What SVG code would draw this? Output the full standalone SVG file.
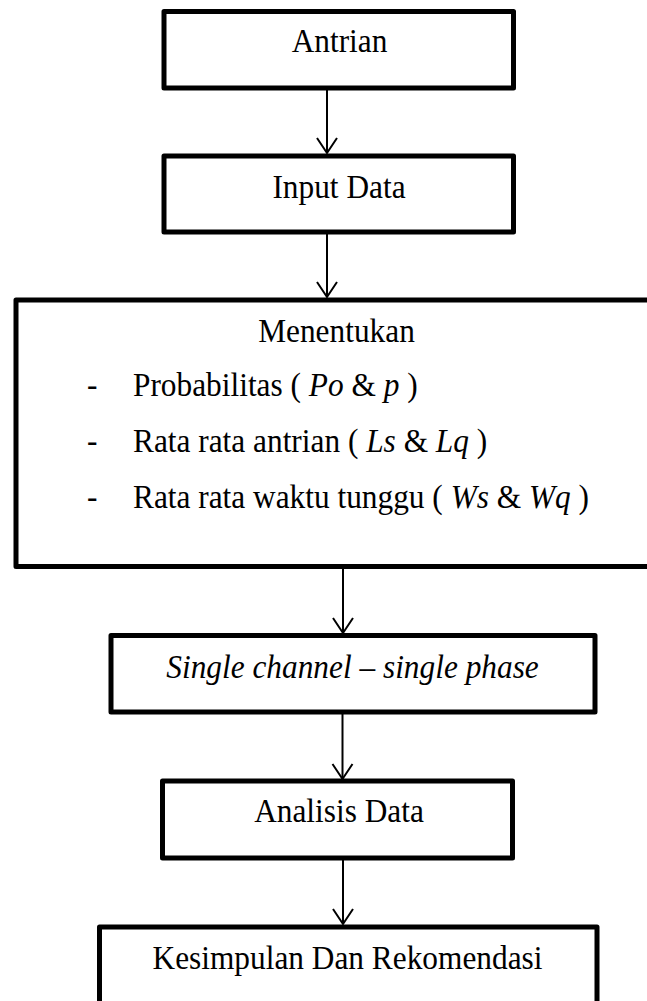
<svg xmlns="http://www.w3.org/2000/svg" width="647" height="1001" viewBox="0 0 647 1001">
  <style>
    .box { fill: #ffffff; stroke: #000000; stroke-width: 5; stroke-linejoin: round; }
    .lbl { font-family: "Liberation Serif", "Times New Roman", serif; font-size: 33px; fill: #000000; }
    .mid { text-anchor: middle; }
    .it { font-style: italic; }
    .wire { fill: none; stroke: #000000; stroke-width: 2; }
  </style>
  <defs>
    <marker id="vhead" markerUnits="userSpaceOnUse" markerWidth="30" markerHeight="30" refX="0" refY="0" viewBox="-20 -15 25 30" orient="auto" overflow="visible">
      <path d="M-15,-10 L0,0 L-15,10" fill="none" stroke="#000000" stroke-width="2"/>
    </marker>
  </defs>

  <rect width="647" height="1001" fill="#ffffff"/>

  <!-- flow connectors -->
  <g id="connectors">
    <line class="wire" x1="327" y1="90" x2="327" y2="153" marker-end="url(#vhead)"/>
    <line class="wire" x1="327" y1="234" x2="327" y2="297" marker-end="url(#vhead)"/>
    <line class="wire" x1="343" y1="568" x2="343" y2="633" marker-end="url(#vhead)"/>
    <line class="wire" x1="342.5" y1="714" x2="342.5" y2="779" marker-end="url(#vhead)"/>
    <line class="wire" x1="343" y1="860" x2="343" y2="924" marker-end="url(#vhead)"/>
  </g>

  <g id="antrian">
    <rect class="box" x="164" y="11.5" width="349.5" height="76.5"/>
    <g transform="translate(339.5,52) scale(0.95,1)"><text class="lbl mid" x="0" y="0">Antrian</text></g>
  </g>

  <g id="input-data">
    <rect class="box" x="164" y="156" width="349.5" height="76"/>
    <g transform="translate(339,198) scale(0.95,1)"><text class="lbl mid" x="0" y="0">Input Data</text></g>
  </g>

  <g id="menentukan">
    <rect class="box" x="16" y="300" width="660" height="266.5"/>
    <g transform="translate(336.5,342) scale(0.95,1)"><text class="lbl mid" x="0" y="0">Menentukan</text></g>
    <g transform="translate(87,396) scale(0.95,1)"><text class="lbl" x="0" y="0">-</text></g>
    <g transform="translate(133,396) scale(0.95,1)"><text class="lbl" x="0" y="0">Probabilitas ( <tspan class="it">Po</tspan> &amp; <tspan class="it">p</tspan> )</text></g>
    <g transform="translate(87,452) scale(0.95,1)"><text class="lbl" x="0" y="0">-</text></g>
    <g transform="translate(133,452) scale(0.95,1)"><text class="lbl" x="0" y="0">Rata rata antrian ( <tspan class="it">Ls</tspan> &amp; <tspan class="it">Lq</tspan> )</text></g>
    <g transform="translate(87,508) scale(0.95,1)"><text class="lbl" x="0" y="0">-</text></g>
    <g transform="translate(133,508) scale(0.95,1)"><text class="lbl" x="0" y="0">Rata rata waktu tunggu ( <tspan class="it">Ws</tspan> &amp; <tspan class="it">Wq</tspan> )</text></g>
  </g>

  <g id="single-channel">
    <rect class="box" x="111" y="635.5" width="484" height="76.5"/>
    <g transform="translate(352.5,678) scale(0.95,1)"><text class="lbl mid it" x="0" y="0">Single channel – single phase</text></g>
  </g>

  <g id="analisis-data">
    <rect class="box" x="162.5" y="781" width="350" height="77"/>
    <g transform="translate(339,822) scale(0.95,1)"><text class="lbl mid" x="0" y="0">Analisis Data</text></g>
  </g>

  <g id="kesimpulan">
    <rect class="box" x="99.5" y="927" width="497.5" height="120"/>
    <g transform="translate(347.5,969) scale(0.95,1)"><text class="lbl mid" x="0" y="0">Kesimpulan Dan Rekomendasi</text></g>
  </g>
</svg>
